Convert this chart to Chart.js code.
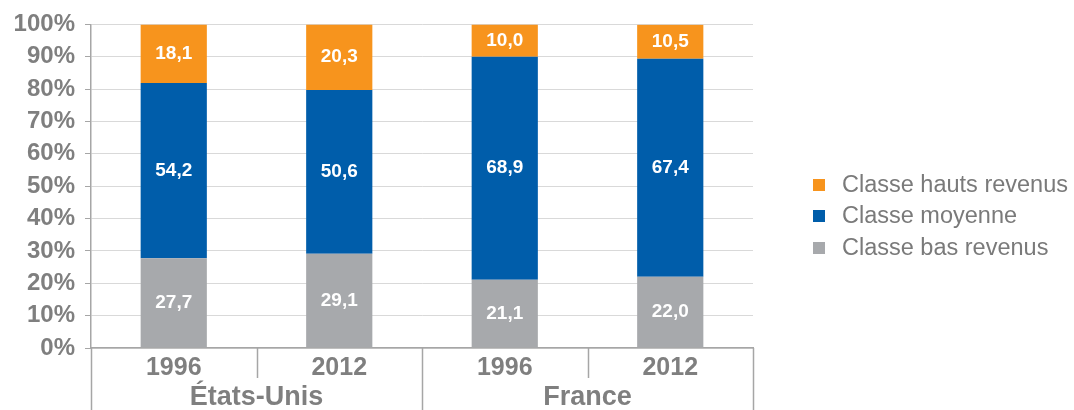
<!DOCTYPE html>
<html>
<head>
<meta charset="utf-8">
<script src="https://cdn.jsdelivr.net/npm/chart.js@4/dist/chart.umd.min.js"></script>
<style>
html,body{margin:0;padding:0;background:#fff;}
#wrap{width:1074px;height:410px;position:relative;}
</style>
</head>
<body>
<div id="wrap"><canvas id="c" width="1074" height="410"></canvas></div>
<script>
const years = ['1996', '2012', '1996', '2012'];
const groups = ['États-Unis', 'France'];
const groupSizes = [2, 2];
const basRevenus = [27.7, 29.1, 21.1, 22.0];
const classeMoyenne = [54.2, 50.6, 68.9, 67.4];
const hautsRevenus = [18.1, 20.3, 10.0, 10.5];
const seriesNames = ['Classe bas revenus', 'Classe moyenne', 'Classe hauts revenus'];
const seriesColors = ['#A7A9AC', '#005DAA', '#F7941D'];
const yTicks = [0, 10, 20, 30, 40, 50, 60, 70, 80, 90, 100];

const FONT = '"Liberation Sans", Arial, sans-serif';
const GRAY_TEXT = '#7f7f7f';
const AXIS = '#a6a6a6';

const overlay = {
  id: 'overlay',
  afterDatasetsDraw(chart) {
    const ctx = chart.ctx;
    ctx.save();
    ctx.font = 'bold 19px ' + FONT;
    ctx.fillStyle = '#ffffff';
    ctx.textAlign = 'center';
    ctx.textBaseline = 'middle';
    chart.data.datasets.forEach((ds, di) => {
      chart.getDatasetMeta(di).data.forEach((el, i) => {
        const p = el.getCenterPoint();
        ctx.fillText(ds.data[i].toFixed(1).replace('.', ','), p.x, p.y);
      });
    });
    ctx.restore();
  },
  afterDraw(chart) {
    const ctx = chart.ctx;
    const x = chart.scales.x;
    const area = chart.chartArea;
    const n = years.length;
    const w = (area.right - area.left) / n;
    ctx.save();
    ctx.strokeStyle = AXIS;
    ctx.lineWidth = 1.5;
    let boundaries = [];
    for (let i = 0; i <= n; i++) boundaries.push(area.left + i * w);
    let groupEdges = [0];
    let acc = 0;
    groupSizes.forEach(s => { acc += s; groupEdges.push(acc); });
    boundaries.forEach((bx, i) => {
      const isGroup = groupEdges.includes(i);
      ctx.beginPath();
      ctx.moveTo(Math.round(bx) + 0.5, area.bottom);
      ctx.lineTo(Math.round(bx) + 0.5, isGroup ? 410 : area.bottom + 30);
      ctx.stroke();
    });
    ctx.font = 'bold 27px ' + FONT;
    ctx.fillStyle = GRAY_TEXT;
    ctx.textAlign = 'center';
    ctx.textBaseline = 'middle';
    let start = 0;
    groups.forEach((g, gi) => {
      const s = groupSizes[gi];
      const cx = (x.getPixelForValue(start) + x.getPixelForValue(start + s - 1)) / 2;
      ctx.fillText(g, cx, 398);
      start += s;
    });
    const order = [2, 1, 0];
    const ly = [185, 216, 248];
    ctx.font = '23.5px ' + FONT;
    ctx.textAlign = 'left';
    order.forEach((di, k) => {
      ctx.fillStyle = seriesColors[di];
      ctx.fillRect(813, ly[k] - 6, 12, 12);
      ctx.fillStyle = '#7a7a7a';
      ctx.fillText(seriesNames[di], 842, ly[k] + 1);
    });
    ctx.restore();
  }
};

const seriesData = [basRevenus, classeMoyenne, hautsRevenus];

new Chart(document.getElementById('c'), {
  type: 'bar',
  data: {
    labels: years,
    datasets: seriesData.map((d, i) => ({
      label: seriesNames[i],
      data: d,
      backgroundColor: seriesColors[i],
      borderWidth: 0,
      barPercentage: 0.4,
      categoryPercentage: 1.0
    }))
  },
  options: {
    responsive: false,
    animation: false,
    devicePixelRatio: 1,
    layout: { padding: { top: 23, right: 321, bottom: 30, left: 0 } },
    plugins: { legend: { display: false }, tooltip: { enabled: false } },
    scales: {
      x: {
        stacked: true,
        grid: { display: false, drawTicks: false, tickLength: 0 },
        border: { display: true, color: AXIS, width: 1.5 },
        ticks: {
          color: GRAY_TEXT,
          font: { family: FONT, size: 25, weight: 'bold' },
          padding: 5
        },
        afterFit: s => { s.height = 32; }
      },
      y: {
        stacked: true,
        min: 0,
        max: 100,
        afterBuildTicks: s => { s.ticks = yTicks.map(v => ({ value: v })); },
        grid: { color: '#d9d9d9', tickColor: AXIS, tickLength: 6, lineWidth: 1 },
        border: { display: true, color: AXIS, width: 1.5 },
        ticks: {
          color: GRAY_TEXT,
          font: { family: FONT, size: 24, weight: 'bold' },
          padding: 10,
          callback: v => v + '%'
        },
        afterFit: s => { s.width = 91; }
      }
    }
  },
  plugins: [overlay]
});
</script>
</body>
</html>
